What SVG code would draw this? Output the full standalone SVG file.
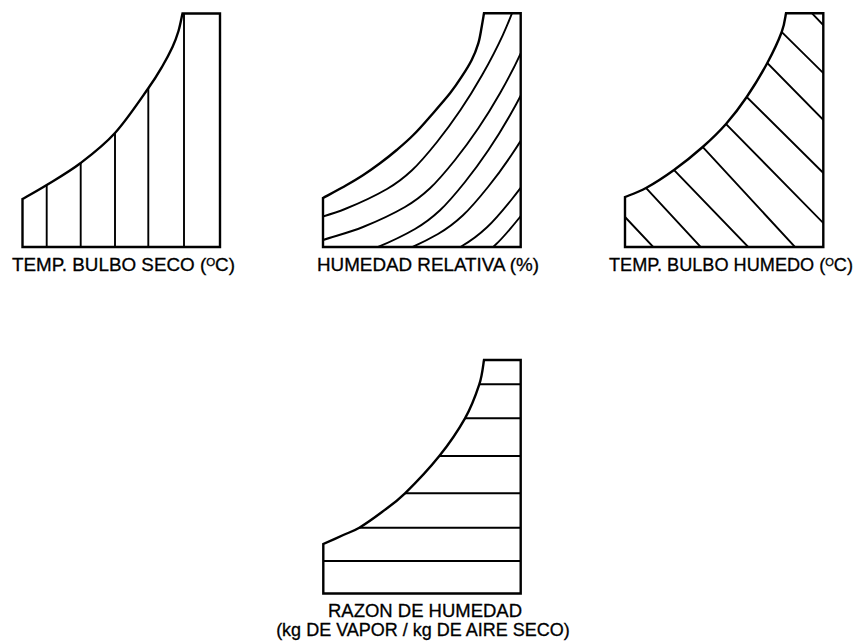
<svg xmlns="http://www.w3.org/2000/svg" xmlns:xlink="http://www.w3.org/1999/xlink" width="861" height="644" viewBox="0 0 861 644">
<style>
.outline { fill: none; stroke: #000; stroke-width: 2.4; stroke-linejoin: miter; }
.hatch { fill: none; stroke: #000; stroke-width: 1.9; }
.label { font-family: "Liberation Sans", Arial, sans-serif; font-size: 18px; fill: #000; stroke: #000; stroke-width: 0.3; }
.sup { font-size: 11px; }
</style>
<defs>
<path id="o1" d="M22.5,247 L22.5,199 C26.5,196.7 37.0,191.0 46.7,185 C56.4,179.0 69.3,171.7 80.7,163 C92.1,154.3 103.7,145.5 115,133 C126.3,120.6 140.4,99.5 148.3,88.3 C156.2,77.1 158.5,72.9 162.5,66 C166.5,59.1 169.8,52.8 172.5,47 C175.2,41.2 176.8,36.6 178.5,31 C180.2,25.4 181.8,16.4 182.5,13.5 L220,13.5 L220,247 Z"/>
<path id="o2" d="M323,247 L323,198 C327.0,195.8 340.0,188.8 346.7,185 C353.4,181.2 357.8,178.6 363.3,175 C368.9,171.4 374.4,167.5 380,163.3 C385.6,159.1 391.2,154.7 396.7,150 C402.2,145.3 407.8,140.6 413.3,135 C418.9,129.5 423.9,123.7 430,116.7 C436.1,109.7 444.7,100.0 450,93.3 C455.3,86.6 458.1,82.3 461.7,76.7 C465.3,71.2 468.9,65.6 471.7,60 C474.5,54.4 476.6,48.9 478.3,43.3 C480.0,37.8 480.75,31.7 481.7,26.7 C482.65,21.7 483.6,15.5 484,13.3 L520.7,13.3 L520.7,247 Z"/>
<path id="o3" d="M625,247 L625,197 C628.5,195.5 637.8,192.5 646,188 C654.2,183.5 664.55,176.8 674,170 C683.45,163.2 694.0,154.7 702.7,147 C711.4,139.3 718.7,132.3 726,124 C733.3,115.7 739.8,107.2 746.7,97 C753.6,86.8 761.5,73.8 767.3,63 C773.1,52.2 778.6,40.3 781.7,32 C784.8,23.7 785.3,16.4 786,13.3 L823.3,13.3 L823.3,247 Z"/>
<path id="o4" d="M323.3,593.5 L323.3,544 C326.6,542.5 337.3,537.7 343.3,535 C349.3,532.3 352.85,531.5 359.3,527.7 C365.75,523.9 374.4,517.7 382,512 C389.6,506.3 395.45,502.6 405,493.3 C414.55,484.0 429.3,468.5 439.3,456 C449.3,443.5 458.3,430.25 465,418.3 C471.7,406.35 476.1,394.0 479.3,384.3 C482.5,374.6 483.2,364.05 484,360 L520.7,360 L520.7,593.5 Z"/>
<path id="rh" d="M280,254 C287.2,251.7 309.2,244.5 323,240 C336.8,235.5 349.3,232.5 363,227 C376.7,221.5 393.8,213.45 405,207 C416.2,200.55 421.7,196.1 430,188.3 C438.3,180.5 446.95,170 455,160 C463.05,150 470.8,139.4 478.3,128.3 C485.8,117.2 492.9,105.8 500,93.3 C507.1,80.8 514.7,66.35 520.7,53.3 C526.7,40.25 532.3,25.55 536,15 C539.7,4.45 541.8,-5.8 543,-10"/>
<clipPath id="c1"><use xlink:href="#o1"/></clipPath>
<clipPath id="c2"><use xlink:href="#o2"/></clipPath>
<clipPath id="c3"><use xlink:href="#o3"/></clipPath>
<clipPath id="c4"><use xlink:href="#o4"/></clipPath>
</defs>
<rect width="861" height="644" fill="#fff"/>

<g id="temp-bulbo-seco">
<g clip-path="url(#c1)">
<path class="hatch" d="M46.7,0 V260 M80.7,0 V260 M115,0 V260 M148.3,0 V260 M184,0 V260"/>
</g>
<use xlink:href="#o1" class="outline"/>
<text class="label" x="12" y="271" textLength="223" lengthAdjust="spacingAndGlyphs">TEMP. BULBO SECO (<tspan class="sup" dy="-5.3">O</tspan><tspan dy="5.3">C)</tspan></text>
</g>

<g id="humedad-relativa">
<g clip-path="url(#c2)" class="hatch">
<use xlink:href="#rh" transform="translate(-18,-18)"/>
<use xlink:href="#rh"/>
<use xlink:href="#rh" transform="translate(10,22)"/>
<use xlink:href="#rh" transform="translate(33,27)"/>
<use xlink:href="#rh" transform="translate(57,39)"/>
<use xlink:href="#rh" transform="translate(65,57)"/>
</g>
<use xlink:href="#o2" class="outline"/>
<text class="label" x="317" y="271" textLength="222" lengthAdjust="spacingAndGlyphs">HUMEDAD RELATIVA (%)</text>
</g>

<g id="temp-bulbo-humedo">
<g clip-path="url(#c3)">
<path class="hatch" d="M802,2.7 L833,35.5 M771.7,22.1 L833.3,82.9 M757.3,52.8 L833.3,130.2 M736.7,87.1 L833.3,182.9 M716,113.8 L833.3,233.2 M692.7,136.2 L805,257.8 M664,159.6 L758.3,257.4 M636,177.2 L710.7,257.8 M615,206.4 L663.3,257.6"/>
</g>
<use xlink:href="#o3" class="outline"/>
<text class="label" x="609" y="271" textLength="244" lengthAdjust="spacingAndGlyphs">TEMP. BULBO HUMEDO (<tspan class="sup" dy="-5.3">O</tspan><tspan dy="5.3">C)</tspan></text>
</g>

<g id="razon-de-humedad">
<g clip-path="url(#c4)">
<path class="hatch" d="M300,384.3 H540 M300,418.3 H540 M300,456 H540 M300,493.3 H540 M300,527.7 H540 M300,561 H540"/>
</g>
<use xlink:href="#o4" class="outline"/>
<text class="label" x="328" y="617" textLength="194" lengthAdjust="spacingAndGlyphs">RAZON DE HUMEDAD</text>
<text class="label" x="423" y="636" text-anchor="middle">(kg DE VAPOR / kg DE AIRE SECO)</text>
</g>
</svg>
